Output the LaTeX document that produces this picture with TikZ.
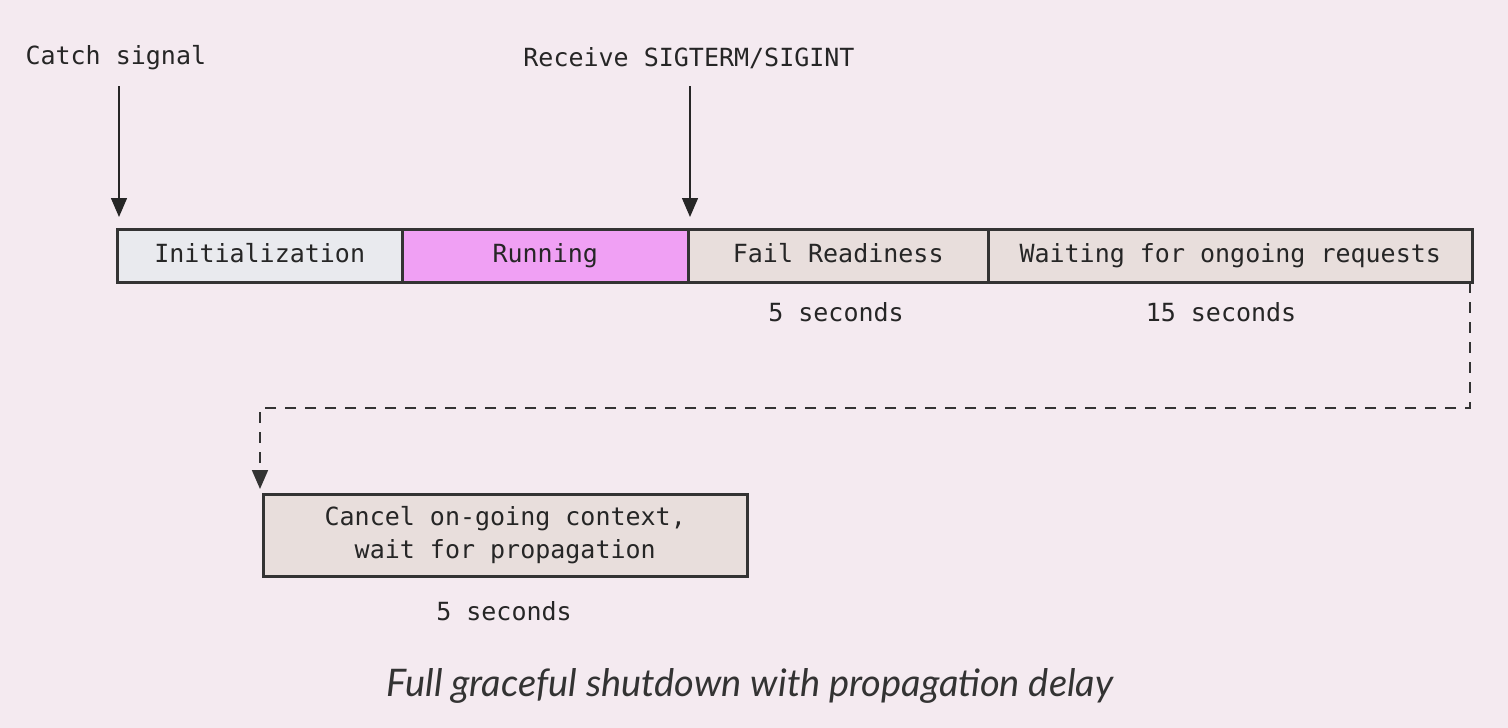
\documentclass[tikz,border=0pt]{standalone}
\usepackage{fontspec}
\setmainfont{Lato}
\setmonofont{DejaVu Sans Mono}
\usetikzlibrary{arrows.meta}
\definecolor{bg}{HTML}{F4EAF0}
\definecolor{ink}{HTML}{333333}
\definecolor{initc}{HTML}{E9EAEE}
\definecolor{runc}{HTML}{F0A0F4}
\definecolor{phase}{HTML}{E8DEDC}
\begin{document}
\begin{tikzpicture}[x=1pt,y=-1pt,
  lbl/.style={font=\ttfamily\fontsize{25}{32}\selectfont, text=black!85},
  seg/.style={draw=ink, line width=2.5pt, minimum height=53pt, inner sep=0pt, anchor=north west, lbl, text height=18pt, text depth=5pt},
  sig/.style={draw=black!85, line width=1.4pt, -{Triangle[length=19pt,width=16pt]}},
  dashconn/.style={draw=ink, line width=1.8pt, dash pattern=on 11pt off 9pt, -{Triangle[length=19pt,width=16pt]}}
]
\fill[bg] (0,0) rectangle (1508,728);
\useasboundingbox (0,0) rectangle (1508,728);

\node[seg, fill=initc, minimum width=285pt] (init) at (116,228) {Initialization};
\node[seg, fill=runc, minimum width=286pt] (run) at (401,228) {Running};
\node[seg, fill=phase, minimum width=300pt] (fail) at (687,228) {Fail Readiness};
\node[seg, fill=phase, minimum width=484pt] (wait) at (987,228) {Waiting for ongoing requests};

\node[lbl, anchor=west] (catch) at (22,58) {Catch signal};
\node[lbl] (recv) at (689,58) {Receive SIGTERM/SIGINT};
\coordinate (catchS) at (119,86);
\coordinate (catchE) at (119,217);
\coordinate (recvS) at (690,86);
\coordinate (recvE) at (690,217);
\draw[sig] (catchS) -- (catchE);
\draw[sig] (recvS) -- (recvE);

\node[lbl] (t1) at (836,312) {5 seconds};
\node[lbl] (t2) at (1221,312) {15 seconds};

\node[seg, fill=phase, minimum width=484pt, minimum height=82pt, align=center, text height=, text depth=, font=\ttfamily\fontsize{25}{33}\selectfont] (cancel) at (262,493) {Cancel on-going context,\\wait for propagation};
\node[lbl] (t3) at (504,611) {5 seconds};

\coordinate (dS) at (1470,282);
\coordinate (d2) at (260,408);
\coordinate (dE) at (260,489);
\draw[dashconn] (dS) |- (d2) -- (dE);

\node[font=\itshape\fontsize{38}{44}\selectfont, text=black!80] (cap) at (750,686) {Full graceful shutdown with propagation delay};
\end{tikzpicture}
\end{document}
